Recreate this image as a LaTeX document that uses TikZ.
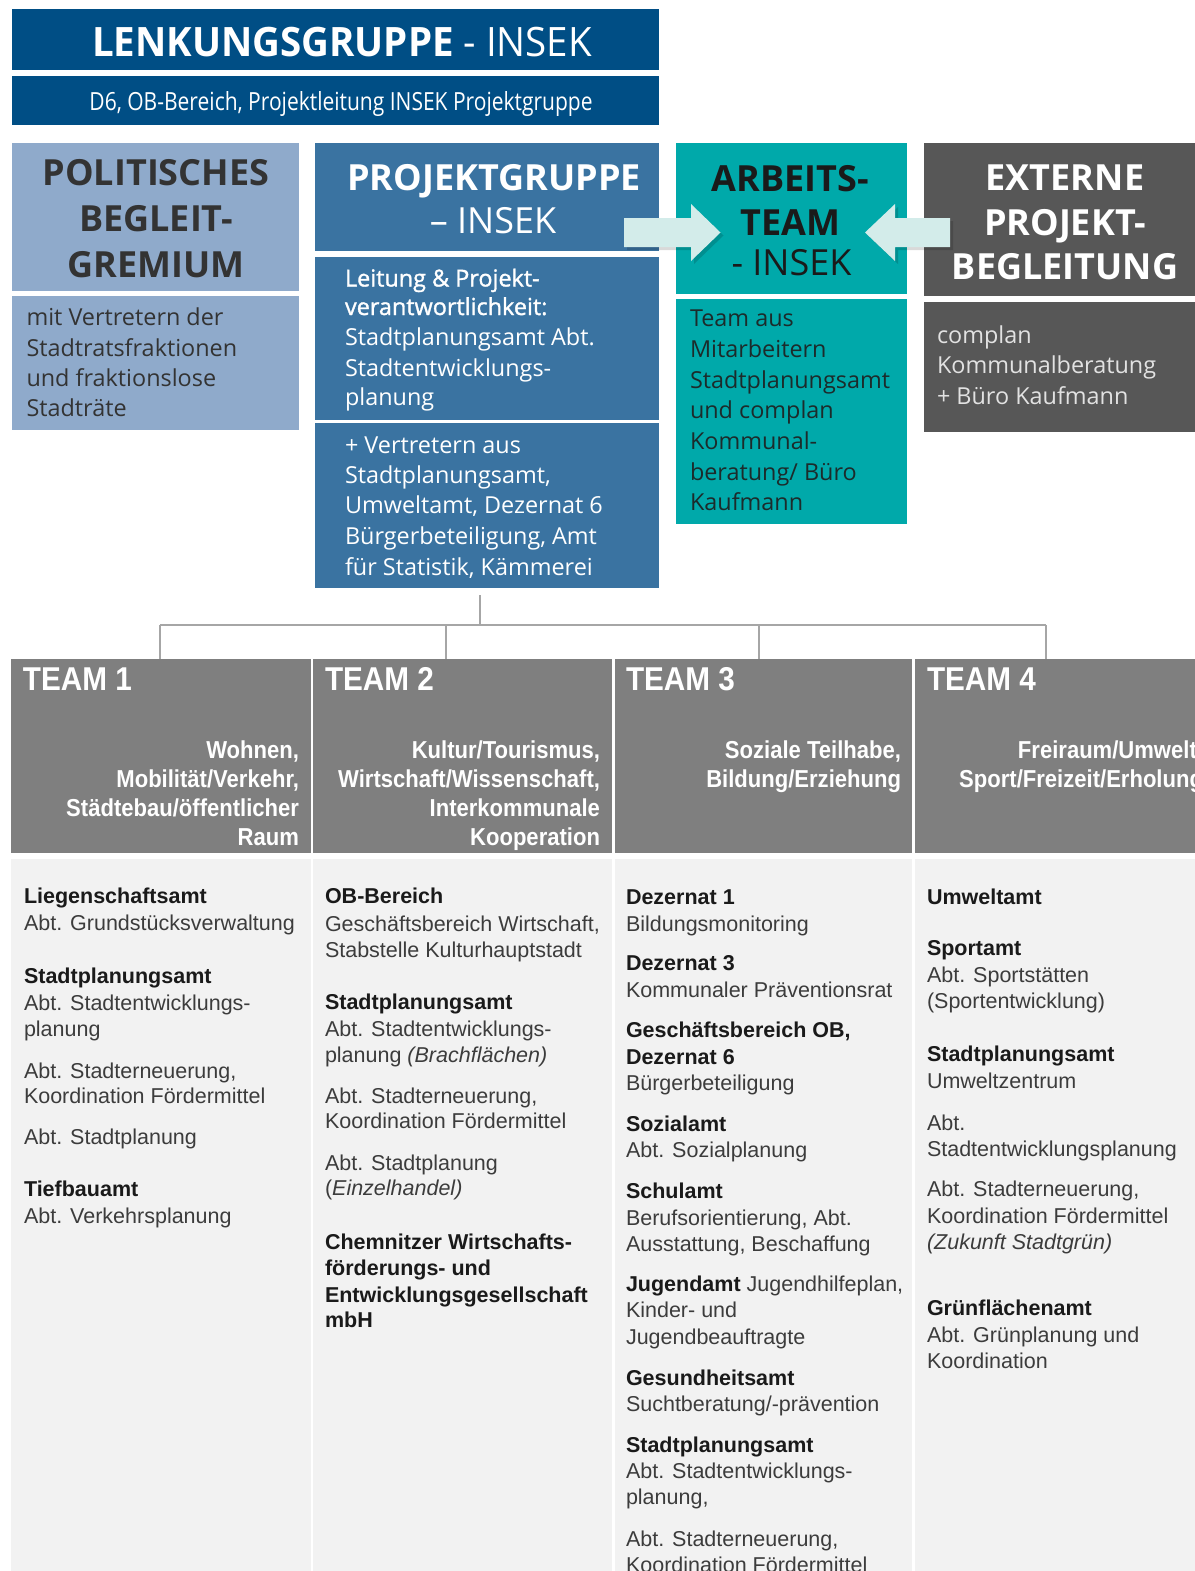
\documentclass[tikz,border=0pt]{standalone}
\usepackage{fontspec}
\setmainfont{Liberation Sans}
\newfontfamily\osf{Open Sans}
\newfontfamily\oshf[FakeStretch=0.95]{Open Sans}
\newfontfamily\oscf[FakeStretch=0.84]{Open Sans}
\newfontfamily\ossbf[FakeBold=1.3]{Open Sans}
\newfontfamily\tcf[FakeStretch=0.9]{Liberation Sans}
\usetikzlibrary{fit}
\definecolor{lenk}{HTML}{004E85}
\definecolor{polit}{HTML}{8FAACB}
\definecolor{projg}{HTML}{3A73A1}
\definecolor{arbt}{HTML}{00A9AA}
\definecolor{extn}{HTML}{575757}
\definecolor{arrowc}{HTML}{D3ECEA}
\definecolor{teamh}{HTML}{7F7F7F}
\definecolor{teamb}{HTML}{F2F2F2}
\definecolor{connc}{HTML}{A6A6A6}
\definecolor{bodyt}{HTML}{3C3C3C}
\definecolor{bodyb}{HTML}{1A1A1A}
\definecolor{darkt}{HTML}{333333}
\definecolor{arbtxt}{HTML}{1C2B2B}
\definecolor{exttxt}{HTML}{E2E2E2}
\newcommand\hb[1]{{\color{bodyb}\bfseries #1}}
\begin{document}
\begin{tikzpicture}[x=1pt,y=-1pt,
  panel/.style={inner sep=0pt, outer sep=0pt, draw=none},
  txt/.style={inner sep=0pt, outer sep=0pt, anchor=base west},
  ctxt/.style={inner sep=0pt, outer sep=0pt, anchor=base},
  rtxt/.style={inner sep=0pt, outer sep=0pt, anchor=base east},
  conn/.style={draw=connc, line width=1.5pt},
  blockarrow/.style={fill=arrowc},
  arrowshadow/.style={fill=black, opacity=0.15},
  hdbold/.style={font=\osf\fontsize{36}{40}\selectfont\bfseries},
  hdreg/.style={font=\osf\fontsize{36}{40}\selectfont},
  topbody/.style={font=\osf\fontsize{23.4}{28}\selectfont},
  teamtitle/.style={font=\tcf\fontsize{33}{36}\selectfont\bfseries, text=white},
  teamsub/.style={font=\tcf\fontsize{24.5}{29}\selectfont\bfseries, text=white},
  btxt/.style={txt, font=\fontsize{21.5}{26}\selectfont, text=bodyt}
]
\useasboundingbox (0,0) rectangle (1194,1571);
\fill[white] (0,0) rectangle (1194,1571);

% ---------- top panels ----------
\node[panel, fill=lenk, fit={(11.5,9.5) (659,70.5)}] (lenk) {};
\node[panel, fill=lenk, fit={(11.5,76) (659,125)}] (lenksub) {};
\node[panel, fill=polit, fit={(11.5,142.5) (299,291)}] (polh) {};
\node[panel, fill=polit, fit={(11.5,296) (299,430)}] (polb) {};
\node[panel, fill=projg, fit={(315,142.5) (659,250.5)}] (pgh) {};
\node[panel, fill=projg, fit={(315,256.5) (659,420)}] (pg1) {};
\node[panel, fill=projg, fit={(315,422.5) (659,588)}] (pg2) {};
\node[panel, fill=arbt, fit={(675.5,142.5) (906.5,294)}] (arh) {};
\node[panel, fill=arbt, fit={(675.5,299) (906.5,524)}] (arb) {};
\node[panel, fill=extn, fit={(924,142.5) (1200,295.5)}] (exh) {};
\node[panel, fill=extn, fit={(924,301.5) (1200,431.5)}] (exb) {};

% ---------- block arrows ----------
\fill[arrowshadow] (627,221) -- (694,221) -- (694,207) -- (723.5,235.5) -- (694,264) -- (694,250) -- (627,250) -- cycle;
\fill[blockarrow] (624,218) -- (691,218) -- (691,204) -- (720.5,232.5) -- (691,261) -- (691,247) -- (624,247) -- cycle;
\fill[arrowshadow] (953,221) -- (898,221) -- (898,207) -- (868,235.5) -- (898,264) -- (898,250) -- (953,250) -- cycle;
\fill[blockarrow] (950,218) -- (895,218) -- (895,204) -- (865,232.5) -- (895,261) -- (895,247) -- (950,247) -- cycle;

% ---------- top texts ----------
\node[ctxt, text=white, font=\oshf\fontsize{40.5}{44}\selectfont] (lenkt) at (342,57) {\bfseries LENKUNGSGRUPPE\mdseries{} - INSEK};
\node[ctxt, text=white, font=\oscf\fontsize{25}{28}\selectfont] (lenkst) at (341,110) {D6, OB-Bereich, Projektleitung INSEK Projektgruppe};

\node[ctxt, hdbold, text=darkt] (polt1) at (156,185) {POLITISCHES};
\node[ctxt, hdbold, text=darkt] (polt2) at (156,231.5) {BEGLEIT-};
\node[ctxt, hdbold, text=darkt] (polt3) at (156,277) {GREMIUM};
\node[txt, topbody, text=darkt] (polb1) at (26.5,325) {mit Vertretern der};
\node[txt, topbody, text=darkt] (polb2) at (26.5,356) {Stadtratsfraktionen};
\node[txt, topbody, text=darkt] (polb3) at (26.5,386) {und fraktionslose};
\node[txt, topbody, text=darkt] (polb4) at (26.5,416.5) {Stadträte};

\node[ctxt, hdbold, text=white] (pgt1) at (494,190) {PROJEKTGRUPPE};
\node[ctxt, hdreg, text=white] (pgt2) at (493,233) {– INSEK};
\node[txt, font=\ossbf\fontsize{23.4}{28}\selectfont, text=white] (pg1a) at (345,286.5) {Leitung \& Projekt-};
\node[txt, font=\ossbf\fontsize{23.4}{28}\selectfont, text=white] (pg1b) at (345,315) {verantwortlichkeit:};
\node[txt, topbody, text=white] (pg1c) at (345,345) {Stadtplanungsamt Abt.};
\node[txt, topbody, text=white] (pg1d) at (345,376) {Stadtentwicklungs-};
\node[txt, topbody, text=white] (pg1e) at (345,405) {planung};
\node[txt, topbody, text=white] (pg2a) at (345,453) {+ Vertretern aus};
\node[txt, topbody, text=white] (pg2b) at (345,483) {Stadtplanungsamt,};
\node[txt, topbody, text=white] (pg2c) at (345,513.5) {Umweltamt, Dezernat 6};
\node[txt, topbody, text=white] (pg2d) at (345,544) {Bürgerbeteiligung, Amt};
\node[txt, topbody, text=white] (pg2e) at (345,575) {für Statistik, Kämmerei};

\node[ctxt, hdbold, text=bodyb] (art1) at (790.5,191) {ARBEITS-};
\node[ctxt, hdbold, text=bodyb] (art2) at (790.5,235) {TEAM};
\node[ctxt, hdreg, text=bodyb] (art3) at (791.5,275.5) {- INSEK};
\foreach \yy/\ttext [count=\i] in {326.5/{Team aus}, 357.5/{Mitarbeitern}, 388.5/{Stadtplanungsamt}, 418.5/{und complan}, 449/{Kommunal-}, 480/{beratung/ Büro}, 510.5/{Kaufmann}}
  \node[txt, topbody, text=arbtxt] (arb\i) at (690,\yy) {\ttext};

\node[ctxt, hdbold, text=white] (ext1) at (1065,190) {EXTERNE};
\node[ctxt, hdbold, text=white] (ext2) at (1065,235) {PROJEKT-};
\node[ctxt, hdbold, text=white] (ext3) at (1065,279) {BEGLEITUNG};
\node[txt, topbody, text=exttxt] (exb1) at (937,343) {complan};
\node[txt, topbody, text=exttxt] (exb2) at (937,373.5) {Kommunalberatung};
\node[txt, topbody, text=exttxt] (exb3) at (937,404.5) {+ Büro Kaufmann};

% ---------- team panels ----------
\node[panel, fill=teamh, fit={(11,658.5) (311,853)}] (t1h) {};
\node[panel, fill=teamh, fit={(313,658.5) (612,853)}] (t2h) {};
\node[panel, fill=teamh, fit={(614.5,658.5) (912,853)}] (t3h) {};
\node[panel, fill=teamh, fit={(914.5,658.5) (1214,853)}] (t4h) {};
\node[panel, fill=teamb, fit={(11,859) (311,1575)}] (t1b) {};
\node[panel, fill=teamb, fit={(313,859) (612,1575)}] (t2b) {};
\node[panel, fill=teamb, fit={(614.5,859) (912,1575)}] (t3b) {};
\node[panel, fill=teamb, fit={(914.5,859) (1214,1575)}] (t4b) {};

% ---------- connectors ----------
\coordinate (j0) at (480,625);
\coordinate (jl) at (160,625);
\coordinate (jr) at (1046,625);
\coordinate (j2) at (446,625);
\coordinate (j3) at (759,625);
\draw[conn] ([yshift=-7pt]pg2.south -| j0) -- (j0);
\draw[conn] (jl) -- (jr);
\draw[conn] (jl) -- (jl |- t1h.north);
\draw[conn] (j2) -- (j2 |- t2h.north);
\draw[conn] (j3) -- (j3 |- t3h.north);
\draw[conn] (jr) -- (jr |- t4h.north);

% ---------- team headers ----------
\node[txt, teamtitle] (tt1) at (23,690) {TEAM 1};
\node[txt, teamtitle] (tt2) at (325,690) {TEAM 2};
\node[txt, teamtitle] (tt3) at (626,690) {TEAM 3};
\node[txt, teamtitle] (tt4) at (927,690) {TEAM 4};
\foreach \yy/\ttext [count=\i] in {758/{Wohnen,}, 787/{Mobilität/Verkehr,}, 816/{Städtebau/öffentlicher}, 845/{Raum}}
  \node[rtxt, teamsub] (ts1\i) at (299,\yy) {\ttext};
\foreach \yy/\ttext [count=\i] in {758/{Kultur/Tourismus,}, 787/{Wirtschaft/Wissenschaft,}, 816/{Interkommunale}, 845/{Kooperation}}
  \node[rtxt, teamsub] (ts2\i) at (600,\yy) {\ttext};
\foreach \yy/\ttext [count=\i] in {758/{Soziale Teilhabe,}, 787/{Bildung/Erziehung}}
  \node[rtxt, teamsub] (ts3\i) at (901,\yy) {\ttext};
\foreach \yy/\ttext [count=\i] in {758/{Freiraum/Umwelt,}, 787/{Sport/Freizeit/Erholung}}
  \node[rtxt, teamsub] (ts4\i) at (1203,\yy) {\ttext};

% ---------- team bodies ----------
\foreach \yy/\ttext [count=\i] in {
  903/{\hb{Liegenschaftsamt}}, 930.5/{Abt. Grundstücksverwaltung},
  983/{\hb{Stadtplanungsamt}}, 1010.5/{Abt. Stadtentwicklungs-}, 1036.5/{planung},
  1078/{Abt. Stadterneuerung,}, 1103.5/{Koordination Fördermittel},
  1144/{Abt. Stadtplanung},
  1196.5/{\hb{Tiefbauamt}}, 1223/{Abt. Verkehrsplanung}}
  \node[btxt] (ca\i) at (24,\yy) {\ttext};

\foreach \yy/\ttext [count=\i] in {
  903/{\hb{OB-Bereich}}, 931/{Geschäftsbereich Wirtschaft,}, 957/{Stabstelle Kulturhauptstadt},
  1009/{\hb{Stadtplanungsamt}}, 1036/{Abt. Stadtentwicklungs-}, 1062/{planung \textit{(Brachflächen)}},
  1103/{Abt. Stadterneuerung,}, 1128.5/{Koordination Fördermittel},
  1170/{Abt. Stadtplanung}, 1195.5/{(\textit{Einzelhandel)}},
  1249/{\hb{Chemnitzer Wirtschafts-}}, 1275.5/{\hb{förderungs- und}}, 1302/{\hb{Entwicklungsgesellschaft}}, 1327.5/{\hb{mbH}}}
  \node[btxt] (cb\i) at (325,\yy) {\ttext};

\foreach \yy/\ttext [count=\i] in {
  904/{\hb{Dezernat 1}}, 931.5/{Bildungsmonitoring},
  970/{\hb{Dezernat 3}}, 997/{Kommunaler Präventionsrat},
  1037/{\hb{Geschäftsbereich OB,}}, 1064/{\hb{Dezernat 6}}, 1090/{Bürgerbeteiligung},
  1131/{\hb{Sozialamt}}, 1157/{Abt. Sozialplanung},
  1198/{\hb{Schulamt}}, 1225/{Berufsorientierung, Abt.}, 1251/{Ausstattung, Beschaffung},
  1291/{\hb{Jugendamt} Jugendhilfeplan,}, 1317/{Kinder- und}, 1344/{Jugendbeauftragte},
  1385/{\hb{Gesundheitsamt}}, 1411/{Suchtberatung/-prävention},
  1452/{\hb{Stadtplanungsamt}}, 1478/{Abt. Stadtentwicklungs-}, 1504/{planung,},
  1546/{Abt. Stadterneuerung,}, 1572/{Koordination Fördermittel}}
  \node[btxt] (cc\i) at (626,\yy) {\ttext};

\foreach \yy/\ttext [count=\i] in {
  904/{\hb{Umweltamt}},
  955/{\hb{Sportamt}}, 982/{Abt. Sportstätten}, 1008/{(Sportentwicklung)},
  1061/{\hb{Stadtplanungsamt}}, 1088/{Umweltzentrum},
  1130/{Abt.}, 1156/{Stadtentwicklungsplanung},
  1196.5/{Abt. Stadterneuerung,}, 1223/{Koordination Fördermittel}, 1249/{\textit{(Zukunft Stadtgrün)}},
  1315/{\hb{Grünflächenamt}}, 1342/{Abt. Grünplanung und}, 1368/{Koordination}}
  \node[btxt] (cd\i) at (927,\yy) {\ttext};
\end{tikzpicture}
\end{document}
